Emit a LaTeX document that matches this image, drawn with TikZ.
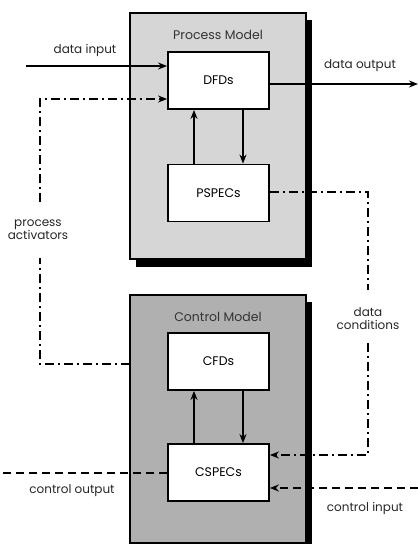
\documentclass[tikz,border=0pt]{standalone}
\usepackage{fontspec}
\setmainfont{Poppins}
\usetikzlibrary{arrows.meta}
\definecolor{pmfill}{RGB}{214,214,214}
\definecolor{cmfill}{RGB}{176,176,176}
\tikzset{
  outer/.style={draw=black, line width=1.8pt},
  shadow/.style={fill=black},
  inner/.style={draw=black, line width=1.8pt, fill=white, minimum width=101pt, minimum height=57pt, font=\fontsize{12.5}{14}\selectfont},
  title/.style={font=\fontsize{12.5}{14}\selectfont, text=black!80},
  lbl/.style={font=\fontsize{12}{14}\selectfont, align=center, text=black!85},
  flow/.style={line width=1.7pt, -{Stealth[length=9pt,width=7pt]}},
  dashdot/.style={line width=1.5pt, dash pattern=on 9pt off 4pt on 2pt off 4pt},
  dashline/.style={line width=1.5pt, dash pattern=on 8pt off 5pt},
}
\begin{document}
\begin{tikzpicture}[x=1pt,y=-1pt]
\useasboundingbox (0,0) rectangle (418,544);
% Process model
\fill[shadow] (136,20) rectangle (312,267);
\filldraw[outer, fill=pmfill] (130,13) rectangle (306,259);
\node[title] (pmt) at (218,35) {Process Model};
\node[inner] (dfd) at (218.5,80.5) {DFDs};
\node[inner] (pspec) at (218.5,193) {PSPECs};
% Control model
\fill[shadow] (136,302) rectangle (312,550);
\filldraw[outer, fill=cmfill] (130,295) rectangle (306,543);
\node[title] (cmt) at (218,317) {Control Model};
\node[inner] (cfd) at (218.5,361.5) {CFDs};
\node[inner] (cspec) at (218.5,472.5) {CSPECs};
% internal arrows
\draw[flow] (pspec.north -| 194,0) -- (dfd.south -| 194,0);
\draw[flow] (dfd.south -| 243,0) -- (pspec.north -| 243,0);
\draw[flow] (cspec.north -| 194,0) -- (cfd.south -| 194,0);
\draw[flow] (cfd.south -| 243,0) -- (cspec.north -| 243,0);
% data input
\coordinate (din) at (26,66);
\draw[flow] (din) -- (dfd.west |- din);
\node[lbl] (dinl) at (85,50) {data input};
% data output
\coordinate (dout) at (418,84);
\draw[flow] (dfd.east |- dout) -- (dout);
\node[lbl] (doutl) at (360,66) {data output};
% process activators
\coordinate (pa1) at (40,99);
\coordinate (pa2) at (40,364);
\node[lbl] (pal) at (38,230) {process\\[-1pt]activators};
\draw[dashdot] (130,364) -- (pa2) -- (40,258);
\draw[dashdot, -{Stealth[length=9pt,width=7pt]}] (40,202) -- (pa1) -- (dfd.west |- pa1);
% data conditions
\coordinate (dc1) at (368,192);
\coordinate (dc2) at (368,455);
\node[lbl] (dcl) at (368,319) {data\\[-1pt]conditions};
\draw[dashdot] (pspec.east |- dc1) -- (dc1) -- (368,290);
\draw[dashdot, -{Stealth[length=9pt,width=7pt]}] (368,343) -- (dc2) -- (cspec.east |- dc2);
% control output
\coordinate (cout) at (0,473);
\draw[dashline] (cspec.west |- cout) -- (cout);
\node[lbl] (coutl) at (72,491) {control output};
% control input
\coordinate (cin) at (418,488);
\draw[dashline, -{Stealth[length=9pt,width=7pt]}] (cin) -- (cspec.east |- cin);
\node[lbl] (cinl) at (365,508) {control input};
\end{tikzpicture}
\end{document}
